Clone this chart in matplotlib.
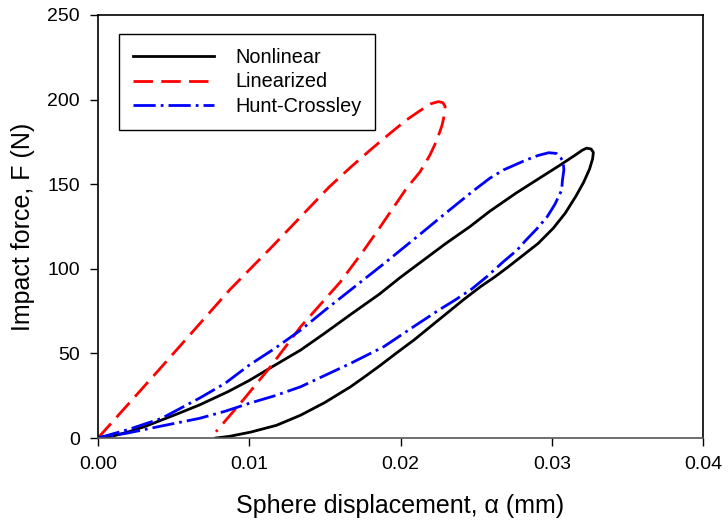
import numpy as np
import matplotlib
matplotlib.use("Agg")
import matplotlib.pyplot as plt

plt.rcParams['font.family'] = ['Liberation Sans', 'DejaVu Sans']

# Nonlinear model: loading then unloading loop
alpha_nl = [0, 0.0010, 0.0020, 0.0031, 0.0042, 0.0054, 0.0067, 0.0086, 0.0100, 0.0115,
            0.0134, 0.0150, 0.0167, 0.0186, 0.0200, 0.0215, 0.0230, 0.0246, 0.0259, 0.0276,
            0.0290, 0.0305, 0.0316, 0.0320, 0.0323, 0.0326, 0.03275, 0.0327, 0.0325, 0.0321,
            0.0316, 0.0309, 0.0301, 0.0291, 0.0281, 0.0271, 0.0262, 0.0253, 0.0242, 0.0231,
            0.0220, 0.0209, 0.0197, 0.0186, 0.0176, 0.0167, 0.0150, 0.0134, 0.0118, 0.0101,
            0.0087, 0.0078]
force_nl = [0, 1.2, 3.6, 6.8, 10.6, 14.8, 19.5, 27.4, 34.0, 42.0,
            52.0, 62.0, 73.0, 85.0, 95.0, 105.0, 115.0, 125.0, 134.0, 144.5,
            152.5, 161.0, 167.5, 170.0, 171.3, 170.8, 168.8, 165.0, 159.0, 151.0,
            143.0, 133.0, 124.0, 115.0, 108.0, 101.0, 95.0, 89.5, 82.0, 74.0,
            66.0, 58.0, 50.0, 42.5, 36.0, 30.3, 21.0, 13.5, 7.5, 3.5,
            1.0, 0]

# Linearized model
alpha_lin = [0, 0.0042, 0.0087, 0.0115, 0.0153, 0.0167, 0.0180, 0.0193, 0.0204, 0.0213,
             0.0220, 0.0225, 0.0228, 0.02295, 0.0229, 0.02275, 0.0226, 0.0223, 0.02195, 0.0213,
             0.0204, 0.0195, 0.0186, 0.0175, 0.0160, 0.0134, 0.0114, 0.0096, 0.0078]
force_lin = [0, 42.0, 87.5, 113.0, 148.5, 160.0, 170.2, 180.0, 188.0, 193.5,
             197.5, 198.8, 198.2, 196.0, 191.0, 185.0, 181.0, 174.0, 167.3, 157.4,
             147.6, 135.8, 124.0, 110.0, 92.0, 65.8, 42.1, 22.5, 3.7]

# Hunt-Crossley model
alpha_hc = [0, 0.0020, 0.0042, 0.0067, 0.0084, 0.0100, 0.0117, 0.0134, 0.0150, 0.0167,
            0.0189, 0.0211, 0.0230, 0.0248, 0.0259, 0.0268, 0.0283, 0.0291, 0.0298, 0.0303,
            0.0306, 0.03076, 0.0308, 0.0307, 0.03066, 0.0302, 0.0297, 0.0290, 0.0283, 0.0277,
            0.0268, 0.0257, 0.0247, 0.0236, 0.0226, 0.0209, 0.0189, 0.0167, 0.0150, 0.0134,
            0.0117, 0.0100, 0.0084, 0.0067, 0.0042, 0.0020, 0]
force_hc = [0, 5.0, 11.6, 23.5, 32.3, 43.1, 53.0, 63.8, 75.5, 87.5,
            103.0, 119.0, 133.0, 146.0, 153.5, 158.4, 164.3, 167.0, 168.6, 168.2,
            165.5, 163.0, 158.4, 152.0, 146.6, 138.0, 130.8, 123.5, 117.0, 111.0,
            104.2, 95.3, 88.0, 81.5, 76.0, 66.0, 54.0, 44.1, 37.0, 30.3,
            25.0, 20.5, 15.8, 11.6, 7.1, 3.0, 0]

fig = plt.figure(figsize=(7.28, 5.24), dpi=100)
ax = fig.add_axes([0.1346, 0.1641, 0.8311, 0.8073])

ax.plot(alpha_nl, force_nl, color='black', lw=2, label='Nonlinear')
ax.plot(alpha_lin, force_lin, color='red', lw=2, dashes=(7, 3), label='Linearized')
ax.plot(alpha_hc, force_hc, color='blue', lw=2, dashes=(8, 1.8, 1, 1.8), label='Hunt-Crossley')

ax.set_xlim(0, 0.04)
ax.set_ylim(0, 250)
ax.set_xticks([0, 0.01, 0.02, 0.03, 0.04])
ax.set_xticklabels(['0.00', '0.01', '0.02', '0.03', '0.04'])
ax.set_yticks([0, 50, 100, 150, 200, 250])
ax.tick_params(direction='out', length=6, width=1, labelsize=14, top=False, right=False, pad=7)
for s in ax.spines.values():
    s.set_linewidth(1.2)
ax.spines['bottom'].set_color('#555555')

ax.set_xlabel('Sphere displacement, \u03b1 (mm)', fontsize=18, labelpad=15)
ax.set_ylabel('Impact force, F (N)', fontsize=18, labelpad=9)

leg = ax.legend(loc='upper left', bbox_to_anchor=(0.0347, 0.955), borderaxespad=0,
                fontsize=14.3, handlelength=4.1, handletextpad=1.05, borderpad=0.7,
                labelspacing=0.28, fancybox=False, edgecolor='black', framealpha=1)
leg.get_frame().set_linewidth(1.0)

fig.savefig('out.png', dpi=100)
